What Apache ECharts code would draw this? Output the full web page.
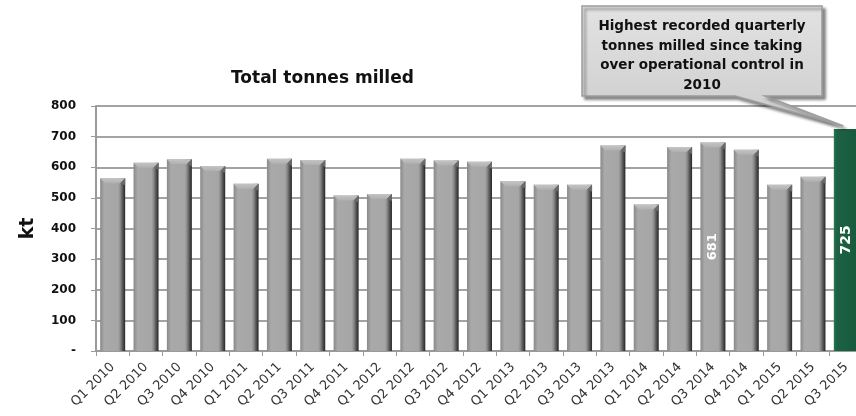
<!DOCTYPE html>
<html>
<head>
<meta charset="utf-8">
<script src="https://cdn.jsdelivr.net/npm/echarts@6/dist/echarts.min.js"></script>
<style>
  html, body { margin: 0; padding: 0; background: #fff; overflow: hidden; }
  /* plot runs a few pixels past the right edge of the window */
  #chart { width: 863px; height: 416px; }
</style>
</head>
<body>
<div id="chart"></div>
<script>
// Quarterly tonnes milled (kt)
const quarters = [
  'Q1 2010', 'Q2 2010', 'Q3 2010', 'Q4 2010',
  'Q1 2011', 'Q2 2011', 'Q3 2011', 'Q4 2011',
  'Q1 2012', 'Q2 2012', 'Q3 2012', 'Q4 2012',
  'Q1 2013', 'Q2 2013', 'Q3 2013', 'Q4 2013',
  'Q1 2014', 'Q2 2014', 'Q3 2014', 'Q4 2014',
  'Q1 2015', 'Q2 2015', 'Q3 2015'
];
const tonnesMilled = [
  564, 615, 626, 604,
  546, 628, 624, 508,
  513, 628, 622, 618,
  554, 543, 543, 671,
  478, 666, 681, 657,
  543, 569, 725
];
// Quarters whose value is printed on the bar
const labelledQuarters = ['Q3 2014', 'Q3 2015'];
// Current quarter, drawn in green
const highlightQuarter = 'Q3 2015';
const yTicks = [0, 100, 200, 300, 400, 500, 600, 700, 800];
const calloutLines = [
  'Highest recorded quarterly',
  'tonnes milled since taking',
  'over operational control in',
  '2010'
];

const FONT = 'DejaVu Sans';
const BAR_W = 25;

const greyBar = {
  type: 'linear', x: 0, y: 0, x2: 1, y2: 0,
  colorStops: [
    { offset: 0, color: '#8a8a8a' },
    { offset: 0.1, color: '#9c9c9c' },
    { offset: 0.16, color: '#a9a9a9' },
    { offset: 0.72, color: '#a6a6a6' },
    { offset: 0.8, color: '#8c8c8c' },
    { offset: 0.9, color: '#555555' },
    { offset: 1, color: '#262626' }
  ]
};
const greenBar = {
  type: 'linear', x: 0, y: 0, x2: 1, y2: 0,
  colorStops: [
    { offset: 0, color: '#2a7350' },
    { offset: 0.12, color: '#1c6242' },
    { offset: 1, color: '#165a3a' }
  ]
};

const barData = tonnesMilled.map((v, i) => {
  const q = quarters[i];
  const item = {
    value: v,
    itemStyle: { color: q === highlightQuarter ? greenBar : greyBar }
  };
  if (labelledQuarters.includes(q)) {
    item.label = {
      show: true,
      position: 'inside',
      rotate: 90,
      color: '#ffffff',
      fontFamily: FONT,
      fontWeight: 'bold',
      fontSize: q === highlightQuarter ? 14 : 13,
      formatter: p => String(p.value)
    };
  }
  return item;
});

// Light bevel along the top edge of each grey bar
function renderBevel(params, api) {
  const idx = api.value(0);
  if (quarters[idx] === highlightQuarter) return null;
  const top = api.coord([idx, api.value(1)]);
  const x0 = top[0] - BAR_W / 2, x1 = top[0] + BAR_W / 2, y = top[1];
  const d = 5;
  return {
    type: 'group',
    children: [
      {
        type: 'polygon',
        shape: { points: [[x0, y], [x1, y], [x1 - d, y + d], [x0 + d, y + d]] },
        style: {
          fill: {
            type: 'linear', x: 0, y: 0, x2: 0, y2: 1,
            colorStops: [
              { offset: 0, color: '#c4c4c4' },
              { offset: 1, color: '#b0b0b0' }
            ]
          }
        }
      },
      {
        type: 'polygon',
        shape: { points: [[x1, y], [x1, y + d + 2], [x1 - d, y + d]] },
        style: { fill: '#6a6a6a' }
      }
    ]
  };
}

const chart = echarts.init(document.getElementById('chart'), null, { renderer: 'canvas' });

chart.setOption({
  animation: false,
  backgroundColor: '#ffffff',
  title: {
    text: 'Total tonnes milled',
    left: 226,
    top: 65,
    textStyle: { fontFamily: FONT, fontWeight: 'bold', fontSize: 17, color: '#111' }
  },
  grid: { left: 96, top: 106, right: 0, height: 245, containLabel: false },
  xAxis: {
    type: 'category',
    data: quarters,
    axisLine: { show: true, lineStyle: { color: '#9a9a9a', width: 2 } },
    axisTick: { show: true, alignWithLabel: false, length: 5, lineStyle: { color: '#9a9a9a', width: 1 } },
    axisLabel: {
      interval: 0,
      rotate: 45,
      margin: 14,
      fontFamily: FONT,
      fontSize: 13,
      color: '#333'
    }
  },
  yAxis: {
    type: 'value',
    min: yTicks[0],
    max: yTicks[yTicks.length - 1],
    interval: yTicks[1] - yTicks[0],
    name: 'kt',
    nameLocation: 'middle',
    nameGap: 58,
    nameRotate: 90,
    nameTextStyle: { fontFamily: FONT, fontWeight: 'bold', fontSize: 19, color: '#111' },
    axisLine: { show: true, lineStyle: { color: '#9a9a9a', width: 2 } },
    axisTick: { show: true, length: 5, lineStyle: { color: '#9a9a9a', width: 1 } },
    splitLine: { show: true, lineStyle: { color: '#a3a3a3', width: 2 } },
    axisLabel: {
      margin: 20,
      fontFamily: FONT,
      fontWeight: 'bold',
      fontSize: 12,
      color: '#111',
      formatter: v => (v === 0 ? '-' : String(v))
    }
  },
  series: [
    {
      type: 'bar',
      data: barData,
      barWidth: BAR_W,
      z: 3
    },
    {
      type: 'custom',
      renderItem: renderBevel,
      data: tonnesMilled.map((v, i) => [i, v]),
      silent: true,
      z: 4
    }
  ]
});

// Callout box pointing at the highlighted quarter
const tip = chart.convertToPixel({ gridIndex: 0 },
  [highlightQuarter, tonnesMilled[quarters.indexOf(highlightQuarter)]]);
const box = { l: 582, t: 6, r: 822, b: 96 };
const tailA = 735, tailB = 765;
const tipX = tip[0] - 3, tipY = tip[1] - 3;

chart.setOption({
  graphic: [
    {
      type: 'polygon',
      z: 100,
      shape: {
        points: [
          [box.l, box.t], [box.r, box.t], [box.r, box.b],
          [tailB, box.b], [tipX, tipY], [tailA, box.b],
          [box.l, box.b]
        ]
      },
      style: {
        fill: {
          type: 'linear', x: 0, y: 0, x2: 0, y2: 1,
          colorStops: [
            { offset: 0, color: '#e2e2e2' },
            { offset: 1, color: '#cdcdcd' }
          ]
        },
        stroke: '#9c9c9c',
        lineWidth: 1.5,
        shadowBlur: 3,
        shadowOffsetX: 3,
        shadowOffsetY: 3,
        shadowColor: 'rgba(0,0,0,0.45)'
      }
    },
    {
      type: 'text',
      z: 101,
      x: (box.l + box.r) / 2,
      y: box.t + 11,
      style: {
        text: calloutLines.join('\n'),
        textAlign: 'center',
        textVerticalAlign: 'top',
        fontFamily: FONT,
        fontWeight: 'bold',
        fontSize: 13.5,
        lineHeight: 19.5,
        fill: '#111'
      }
    }
  ]
});
</script>
</body>
</html>
